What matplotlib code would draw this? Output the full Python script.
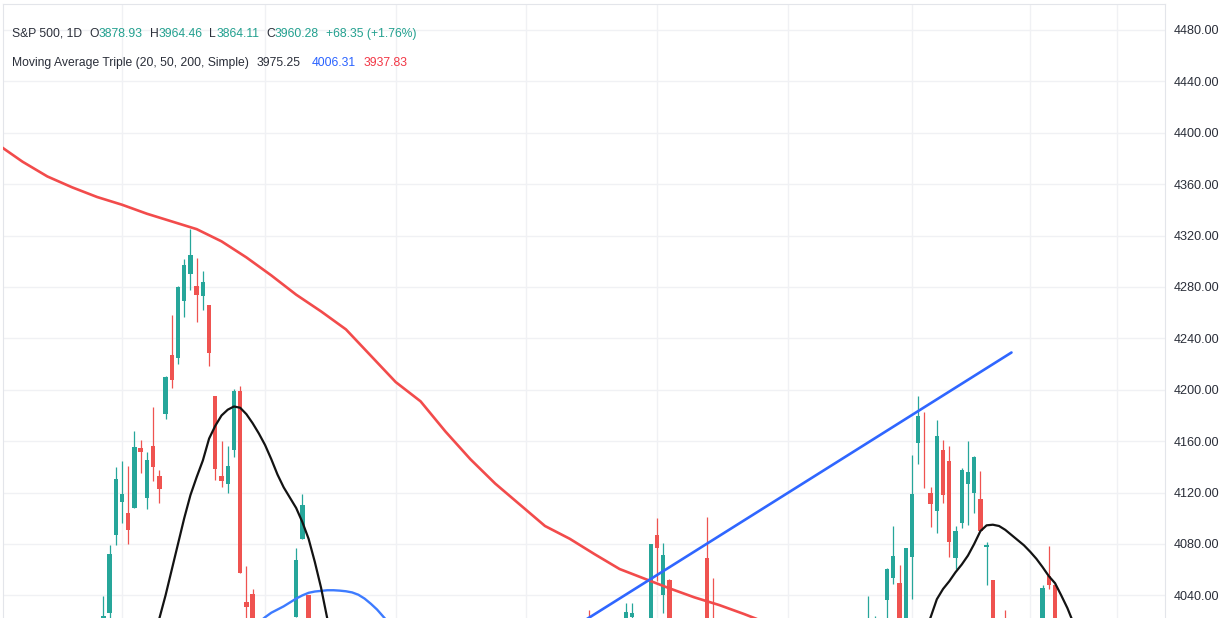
"""
S&P 500 daily candles with a triple moving average (20/50/200) and a trendline,
TradingView-style crop.
"""
import numpy as np
import matplotlib
matplotlib.use("Agg")
import matplotlib.pyplot as plt

plt.rcParams["font.family"] = ["Liberation Sans", "DejaVu Sans"]

UP, DOWN = "#26a69a", "#ef5350"
MA20_C, MA50_C, MA200_C = "#131313", "#3d7bff", "#f24b4b"
TREND_C = "#2f66ff"
GRID_C = "#f0f1f4"
TEXT_C = "#2a2e39"
TEAL_TXT = "#22a08f"

# NYSE holidays in the window, bars are counted in trading days from START
START = "2022-07-01"
HOLIDAYS = ["2022-07-04", "2022-09-05", "2022-11-24", "2022-12-26",
            "2023-01-02", "2023-01-16", "2023-02-20"]

# candles that reach into the visible price window
candle_dates = [
    "2022-07-27", "2022-07-28", "2022-07-29", "2022-08-01", "2022-08-02",
    "2022-08-03", "2022-08-04", "2022-08-05", "2022-08-08", "2022-08-09",
    "2022-08-10", "2022-08-11", "2022-08-12", "2022-08-15", "2022-08-16",
    "2022-08-17", "2022-08-18", "2022-08-19", "2022-08-22", "2022-08-23",
    "2022-08-24", "2022-08-25", "2022-08-26", "2022-08-29", "2022-08-30",
    "2022-09-09", "2022-09-12", "2022-09-13",
    "2022-11-15", "2022-11-23", "2022-11-25", "2022-11-30", "2022-12-01",
    "2022-12-02", "2022-12-05", "2022-12-13", "2022-12-14",
    "2023-01-23", "2023-01-24", "2023-01-26", "2023-01-27", "2023-01-30",
    "2023-01-31", "2023-02-01", "2023-02-02", "2023-02-03", "2023-02-06",
    "2023-02-07", "2023-02-08", "2023-02-09", "2023-02-10", "2023-02-13",
    "2023-02-14", "2023-02-15", "2023-02-16", "2023-02-17", "2023-02-21",
    "2023-02-23", "2023-03-03", "2023-03-06", "2023-03-07",
]
opens = [
    3951.43, 4026.13, 4087.33, 4112.38, 4104.21, 4107.96, 4154.85, 4115.87,
    4155.93, 4133.11, 4181.02, 4227.40, 4225.02, 4269.37, 4290.46, 4280.40,
    4273.13, 4266.31, 4195.08, 4133.09, 4126.55, 4153.26, 4198.74, 4034.58,
    4041.25, 4022.94, 4083.67, 4040.41,
    4006.41, 4000.30, 4023.34, 3957.18, 4087.14, 4040.17, 4052.02, 4069.38,
    4015.54,
    3978.14, 4001.74, 4036.08, 4053.72, 4049.27, 4020.85, 4070.07, 4158.68,
    4136.69, 4119.57, 4105.35, 4153.47, 4144.25, 4068.92, 4096.62, 4126.70,
    4119.50, 4114.75, 4077.39, 4052.35, 4018.60, 3998.02, 4055.15, 4048.26,
]
highs = [
    4039.56, 4078.95, 4140.15, 4144.95, 4140.47, 4167.66, 4161.29, 4151.58,
    4186.62, 4137.30, 4211.03, 4257.91, 4280.47, 4301.79, 4325.28, 4302.18,
    4292.53, 4266.31, 4195.08, 4159.77, 4156.56, 4200.54, 4203.04, 4062.99,
    4044.98, 4076.81, 4119.28, 4040.41,
    4028.84, 4033.78, 4034.02, 4080.11, 4100.51, 4080.48, 4052.45, 4100.96,
    4053.76,
    4039.31, 4023.92, 4061.57, 4094.21, 4063.85, 4077.16, 4148.95, 4195.44,
    4182.36, 4124.63, 4176.54, 4160.67, 4156.23, 4094.36, 4138.90, 4159.77,
    4148.11, 4136.54, 4081.51, 4052.35, 4028.30, 4048.29, 4078.49, 4050.00,
]
lows = [
    3951.43, 3992.97, 4079.22, 4096.02, 4079.81, 4107.96, 4135.42, 4107.31,
    4128.97, 4112.09, 4177.26, 4201.41, 4219.78, 4256.90, 4277.77, 4253.08,
    4261.98, 4218.70, 4129.86, 4124.03, 4119.97, 4147.59, 4057.66, 4017.42,
    3965.21, 4022.94, 4083.67, 3935.18,
    3953.17, 3998.66, 4020.76, 3938.58, 4050.87, 4026.63, 3984.49, 3993.03,
    3965.65,
    3971.64, 3989.79, 4013.29, 4048.70, 4015.55, 4020.44, 4037.20, 4141.88,
    4123.36, 4093.38, 4088.39, 4111.86, 4069.67, 4060.79, 4092.67, 4095.01,
    4103.98, 4089.89, 4047.95, 3995.19, 3969.19, 3995.17, 4044.61, 3980.31,
]
closes = [
    4023.61, 4072.43, 4130.29, 4118.63, 4091.19, 4155.17, 4151.94, 4145.19,
    4140.06, 4122.47, 4210.24, 4207.27, 4280.15, 4297.14, 4305.20, 4274.04,
    4283.74, 4228.48, 4137.99, 4128.73, 4140.77, 4199.12, 4057.66, 4030.61,
    3986.16, 4067.36, 4110.41, 3932.69,
    3991.73, 4027.26, 4026.12, 4080.11, 4076.57, 4071.70, 3998.84, 4019.65,
    3995.32,
    4019.81, 4016.95, 4060.43, 4070.56, 4017.77, 4076.60, 4119.21, 4179.76,
    4136.48, 4111.08, 4164.00, 4117.86, 4081.50, 4090.46, 4137.29, 4136.13,
    4147.60, 4090.41, 4079.09, 3997.34, 4012.32, 4045.64, 4048.26, 3986.37,
]

# moving averages, bar number -> value
ma200_bars = [0, 4, 8, 12, 16, 20, 24, 28, 32, 36, 40, 44, 48, 52, 56, 60,
              64, 68, 72, 76, 80, 84, 88, 92, 96, 100, 104, 108, 112, 116,
              120, 124, 128]
ma200_vals = [4391, 4377.5, 4366, 4357.5, 4350, 4344, 4337, 4331, 4325,
              4315.5, 4303, 4289, 4274, 4261, 4247, 4226.5, 4206, 4191,
              4167.5, 4146, 4127, 4110.5, 4094, 4084, 4072, 4060.5, 4053,
              4045.5, 4038.5, 4032.5, 4025.5, 4018, 4011]

ma20a_bars = list(range(25, 55))
ma20a_vals = [4005, 4022, 4040, 4060, 4080, 4100, 4118, 4132, 4145, 4162,
              4172, 4180, 4184.5, 4187, 4186, 4181, 4174, 4166, 4157, 4146,
              4134, 4124, 4116, 4108, 4097, 4084, 4066, 4046, 4022, 4000]
ma20b_bars = list(range(149, 174))
ma20b_vals = [4012, 4023, 4037, 4045, 4051, 4058, 4064, 4071, 4080, 4090,
              4094.5, 4095, 4094, 4091, 4087, 4083, 4079, 4074, 4068.5, 4062,
              4055, 4049.5, 4040, 4030, 4018]

ma50_bars = list(range(42, 64))
ma50_vals = [4019, 4023, 4026.5, 4029, 4031.5, 4034.5, 4037.5, 4040, 4042,
             4043, 4043.5, 4044, 4044, 4043.7, 4043.2, 4042.3, 4040.5,
             4037.5, 4033.5, 4029, 4023.5, 4018]

# drawn trendline anchors
trend_dates = ["2022-11-01", "2023-02-24"]
trend_prices = [3992, 4229]

grid_dates = ["2022-08-01", "2022-09-01", "2022-10-03", "2022-11-01",
              "2022-12-01", "2023-01-03", "2023-02-01", "2023-03-01",
              "2023-03-21"]
price_ticks = list(range(4040, 4481, 40))


def bar_no(dates):
    return np.busday_count(START, np.array(dates, dtype="datetime64[D]"),
                           holidays=HOLIDAYS)


W, H = 1228, 618
fig = plt.figure(figsize=(W / 100, H / 100), dpi=100)
ax = fig.add_axes([3 / W, 0, 1162 / W, 614 / H])
ax.set_xlim(0.868, 187.68)
ax.set_ylim(4022.4, 4500.2)

ax.set_xticks(bar_no(grid_dates))
ax.set_xticklabels([])
ax.set_yticks(price_ticks)
ax.set_yticklabels([f"{p:.2f}" for p in price_ticks])
ax.yaxis.tick_right()
ax.tick_params(axis="x", length=0)
ax.tick_params(axis="y", length=0, pad=6.5, labelsize=9.1, labelcolor=TEXT_C)
ax.grid(color=GRID_C, lw=1)
ax.set_axisbelow(True)
for side in ["left", "top", "right"]:
    ax.spines[side].set_color("#e3e5ea")
ax.spines["bottom"].set_visible(False)

# candles
x = bar_no(candle_dates)
o, h, l, c = map(np.array, (opens, highs, lows, closes))
col = np.where(c >= o, UP, DOWN)
ax.vlines(x, l, h, colors=col, lw=0.9, zorder=2)
body = np.maximum(np.abs(c - o), 0.6)
ax.bar(x, body, bottom=np.minimum(o, c), width=0.7, color=col, lw=0, zorder=3)

# moving averages and the trendline
ax.plot(ma200_bars, ma200_vals, color=MA200_C, lw=1.9, zorder=4,
        solid_capstyle="round")
ax.plot(ma50_bars, ma50_vals, color=MA50_C, lw=1.7, zorder=4)
ax.plot(ma20a_bars, ma20a_vals, color=MA20_C, lw=1.6, zorder=4)
ax.plot(ma20b_bars, ma20b_vals, color=MA20_C, lw=1.6, zorder=4)
ax.plot(bar_no(trend_dates), trend_prices, color=TREND_C, lw=1.9, zorder=5,
        solid_capstyle="round")

# legend rows: each group starts where it sits in the original (or right
# after the previous one if that is wider); pieces in a group follow on
renderer = fig.canvas.get_renderer()


def draw_row(y_px, groups, size=8.7, gap=7):
    end = 0
    for x_px, pieces in groups:
        x_px = max(x_px, end + gap)
        for text, color in pieces:
            t = fig.text(x_px / W, 1 - y_px / H, text, color=color,
                         fontsize=size, va="center", ha="left")
            x_px += t.get_window_extent(renderer).width
        end = x_px


draw_row(34, [(12, [("S&P 500, 1D", TEXT_C)]),
              (86, [("O", TEXT_C), ("3878.93", TEAL_TXT)]),
              (147, [("H", TEXT_C), ("3964.46", TEAL_TXT)]),
              (205, [("L", TEXT_C), ("3864.11", TEAL_TXT)]),
              (262, [("C", TEXT_C), ("3960.28", TEAL_TXT)]),
              (322, [("+68.35 (+1.76%)", TEAL_TXT)])])
draw_row(63, [(12, [("Moving Average Triple (20, 50, 200, Simple)", TEXT_C)]),
              (257, [("3975.25", TEXT_C)]),
              (312, [("4006.31", "#2962ff")]),
              (363, [("3937.83", "#f23645")])])

fig.savefig("out.png", dpi=100)
